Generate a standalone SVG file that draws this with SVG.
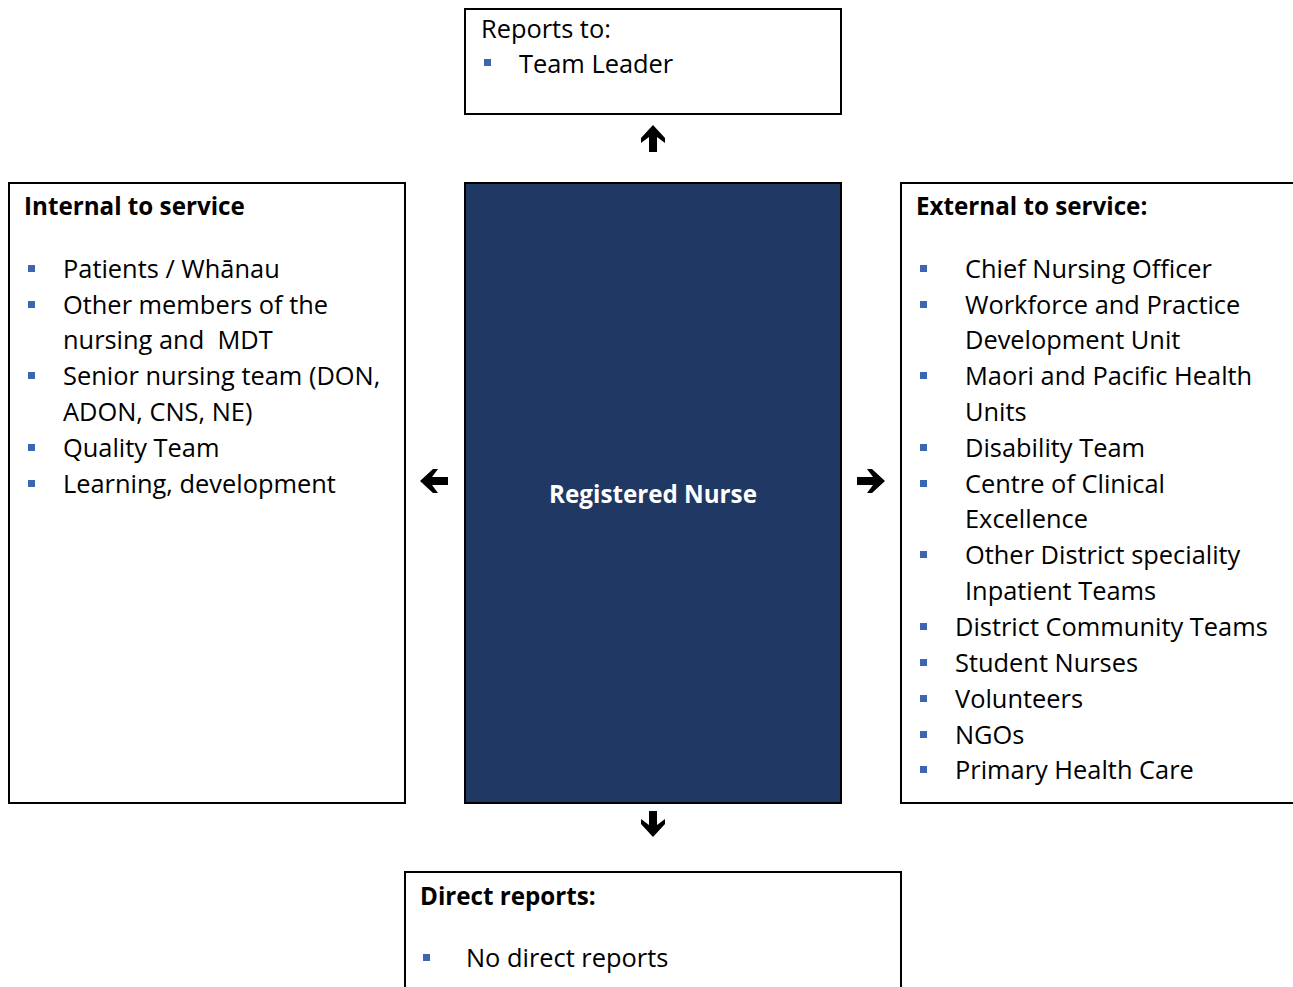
<svg xmlns="http://www.w3.org/2000/svg" width="1293" height="987" viewBox="0 0 1293 987">
<style>
.box{fill:#fff;stroke:#000;stroke-width:2}
.t{font-family:"Open Sans","Liberation Sans",sans-serif;font-size:25.4px;fill:#000}
.b{font-weight:bold;font-size:24.2px}
.bul{fill:#3b67b0}
.arr{fill:#000}
</style>
<rect width="1293" height="987" fill="#fff"/>
<g id="reports-to">
<rect class="box" x="465" y="9" width="376" height="105"/>
<text class="t" x="481" y="38">Reports to:</text>
<rect class="bul" x="484" y="59" width="7" height="7"/>
<text class="t" x="519" y="73">Team Leader</text>
</g>
<g id="internal">
<rect class="box" x="9" y="183" width="396" height="620"/>
<text class="t b" x="24" y="215">Internal to service</text>
<rect class="bul" x="28" y="265" width="7" height="7"/>
<text class="t" x="63" y="278">Patients / Whānau</text>
<rect class="bul" x="28" y="301" width="7" height="7"/>
<text class="t" x="63" y="314">Other members of the</text>
<text class="t" x="63" y="349">nursing and&#160; MDT</text>
<rect class="bul" x="28" y="372" width="7" height="7"/>
<text class="t" x="63" y="385">Senior nursing team (DON,</text>
<text class="t" x="63" y="421">ADON, CNS, NE)</text>
<rect class="bul" x="28" y="444" width="7" height="7"/>
<text class="t" x="63" y="457">Quality Team</text>
<rect class="bul" x="28" y="480" width="7" height="7"/>
<text class="t" x="63" y="493">Learning, development</text>
</g>
<g id="registered-nurse">
<rect x="465" y="183" width="376" height="620" fill="#203864" stroke="#000" stroke-width="2"/>
<text class="t b" x="653" y="503" text-anchor="middle" style="fill:#fff">Registered Nurse</text>
</g>
<g id="external">
<rect class="box" x="901" y="183" width="400" height="620"/>
<text class="t b" x="916" y="215">External to service:</text>
<rect class="bul" x="920" y="265" width="7" height="7"/>
<text class="t" x="965" y="278">Chief Nursing Officer</text>
<rect class="bul" x="920" y="301" width="7" height="7"/>
<text class="t" x="965" y="314">Workforce and Practice</text>
<text class="t" x="965" y="349">Development Unit</text>
<rect class="bul" x="920" y="372" width="7" height="7"/>
<text class="t" x="965" y="385">Maori and Pacific Health</text>
<text class="t" x="965" y="421">Units</text>
<rect class="bul" x="920" y="444" width="7" height="7"/>
<text class="t" x="965" y="457">Disability Team</text>
<rect class="bul" x="920" y="480" width="7" height="7"/>
<text class="t" x="965" y="493">Centre of Clinical</text>
<text class="t" x="965" y="528">Excellence</text>
<rect class="bul" x="920" y="551" width="7" height="7"/>
<text class="t" x="965" y="564">Other District speciality</text>
<text class="t" x="965" y="600">Inpatient Teams</text>
<rect class="bul" x="920" y="623" width="7" height="7"/>
<text class="t" x="955" y="636">District Community Teams</text>
<rect class="bul" x="920" y="659" width="7" height="7"/>
<text class="t" x="955" y="672">Student Nurses</text>
<rect class="bul" x="920" y="695" width="7" height="7"/>
<text class="t" x="955" y="708">Volunteers</text>
<rect class="bul" x="920" y="731" width="7" height="7"/>
<text class="t" x="955" y="744">NGOs</text>
<rect class="bul" x="920" y="766" width="7" height="7"/>
<text class="t" x="955" y="779">Primary Health Care</text>
</g>
<g id="direct-reports">
<rect class="box" x="405" y="872" width="496" height="130"/>
<text class="t b" x="420" y="905">Direct reports:</text>
<rect class="bul" x="423" y="954" width="7" height="7"/>
<text class="t" x="466" y="967">No direct reports</text>
</g>
<g id="connectors">
<path class="arr" d="M653 125 L665 138 L665 143 L657 137 L657 152 L649 152 L649 137 L641 143 L641 138 Z"/>
<path class="arr" d="M653 837 L665 824 L665 819 L657 825 L657 811 L649 811 L649 825 L641 819 L641 824 Z"/>
<path class="arr" d="M420 481 L433 469 L438 469 L432 477 L448 477 L448 485 L432 485 L438 493 L433 493 Z"/>
<path class="arr" d="M885 481 L872 469 L867 469 L873 477 L857 477 L857 485 L873 485 L867 493 L872 493 Z"/>
</g>
</svg>
